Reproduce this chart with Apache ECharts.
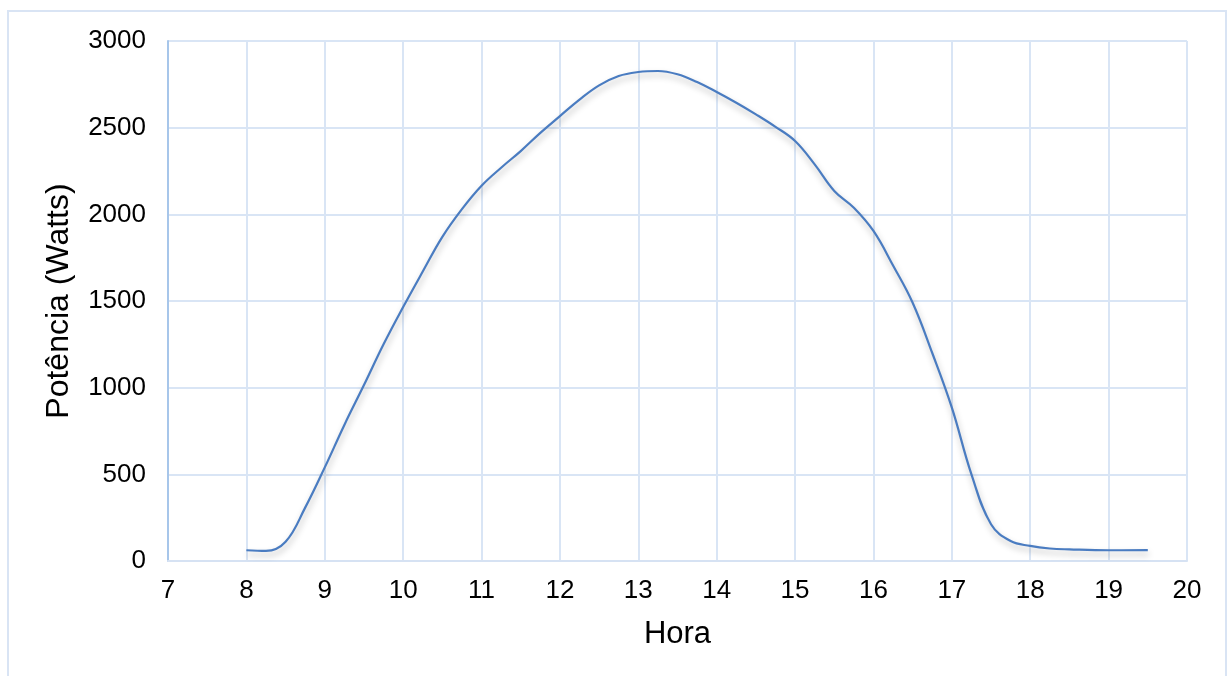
<!DOCTYPE html>
<html>
<head>
<meta charset="utf-8">
<script src="https://cdn.jsdelivr.net/npm/echarts@6/dist/echarts.min.js"></script>
<style>
html,body{margin:0;padding:0;background:#fff;}
#chart{width:1231px;height:676px;}
</style>
</head>
<body>
<div id="chart"></div>
<script>
const hours = [8, 8.25, 8.5, 8.75, 9, 9.25, 9.5, 9.75, 10, 10.25, 10.5, 10.75, 11, 11.25, 11.5, 11.75,
  12, 12.25, 12.5, 12.75, 13, 13.25, 13.5, 13.75, 14, 14.25, 14.5, 14.75, 15, 15.25, 15.5, 15.75,
  16, 16.25, 16.5, 16.75, 17, 17.25, 17.5, 17.75, 18, 18.25, 18.5, 19, 19.5];
const watts = [62, 58, 111, 308, 540, 785, 1015, 1250, 1465, 1670, 1870, 2030, 2165, 2269, 2365, 2470,
  2567, 2662, 2744, 2798, 2821, 2827, 2808, 2763, 2706, 2644, 2577, 2505, 2423, 2288, 2135, 2038,
  1904, 1705, 1490, 1200, 885, 500, 212, 115, 87, 72, 67, 62, 63];
const xTicks = [7, 8, 9, 10, 11, 12, 13, 14, 15, 16, 17, 18, 19, 20];
const yTicks = [0, 500, 1000, 1500, 2000, 2500, 3000];
const xName = 'Hora';
const yName = 'Potência (Watts)';

const chart = echarts.init(document.getElementById('chart'));
const font = 'Liberation Sans, Arial, sans-serif';
chart.setOption({
  animation: false,
  backgroundColor: '#ffffff',
  graphic: [{
    type: 'rect',
    shape: { x: 8, y: 11, width: 1218, height: 720 },
    style: { fill: 'none', stroke: '#D9E4F4', lineWidth: 2 },
    silent: true
  }],
  grid: { left: 168, right: 44, top: 41, bottom: 115, containLabel: false },
  xAxis: {
    type: 'value',
    min: xTicks[0], max: xTicks[xTicks.length - 1], interval: 1,
    name: xName, nameLocation: 'middle', nameGap: 58,
    nameTextStyle: { fontFamily: font, fontSize: 31, color: '#000' },
    axisLine: { show: true, lineStyle: { color: '#D6E2F3', width: 2 } },
    axisTick: { show: false },
    axisLabel: { fontFamily: font, fontSize: 26, color: '#000', margin: 17, formatter: v => String(v) },
    splitLine: { show: true, lineStyle: { color: '#D9E5F5', width: 2 } }
  },
  yAxis: {
    type: 'value',
    min: yTicks[0], max: yTicks[yTicks.length - 1], interval: 500,
    name: yName, nameLocation: 'middle', nameGap: 93, nameRotate: 90,
    nameTextStyle: { fontFamily: font, fontSize: 32, color: '#000' },
    axisLine: { show: true, lineStyle: { color: '#A7C6EA', width: 2 } },
    axisTick: { show: false },
    axisLabel: { fontFamily: font, fontSize: 26, color: '#000', margin: 22, formatter: v => String(v) },
    splitLine: { show: true, lineStyle: { color: '#D9E5F5', width: 2 } }
  },
  series: [{
    type: 'line',
    data: hours.map((h, i) => [h, watts[i]]),
    smooth: 0.4,
    showSymbol: false,
    lineStyle: {
      color: '#4A7CC1', width: 2.2,
      shadowColor: 'rgba(0,0,0,0.28)', shadowBlur: 6, shadowOffsetY: 4, shadowOffsetX: 1
    }
  }]
});
</script>
</body>
</html>
